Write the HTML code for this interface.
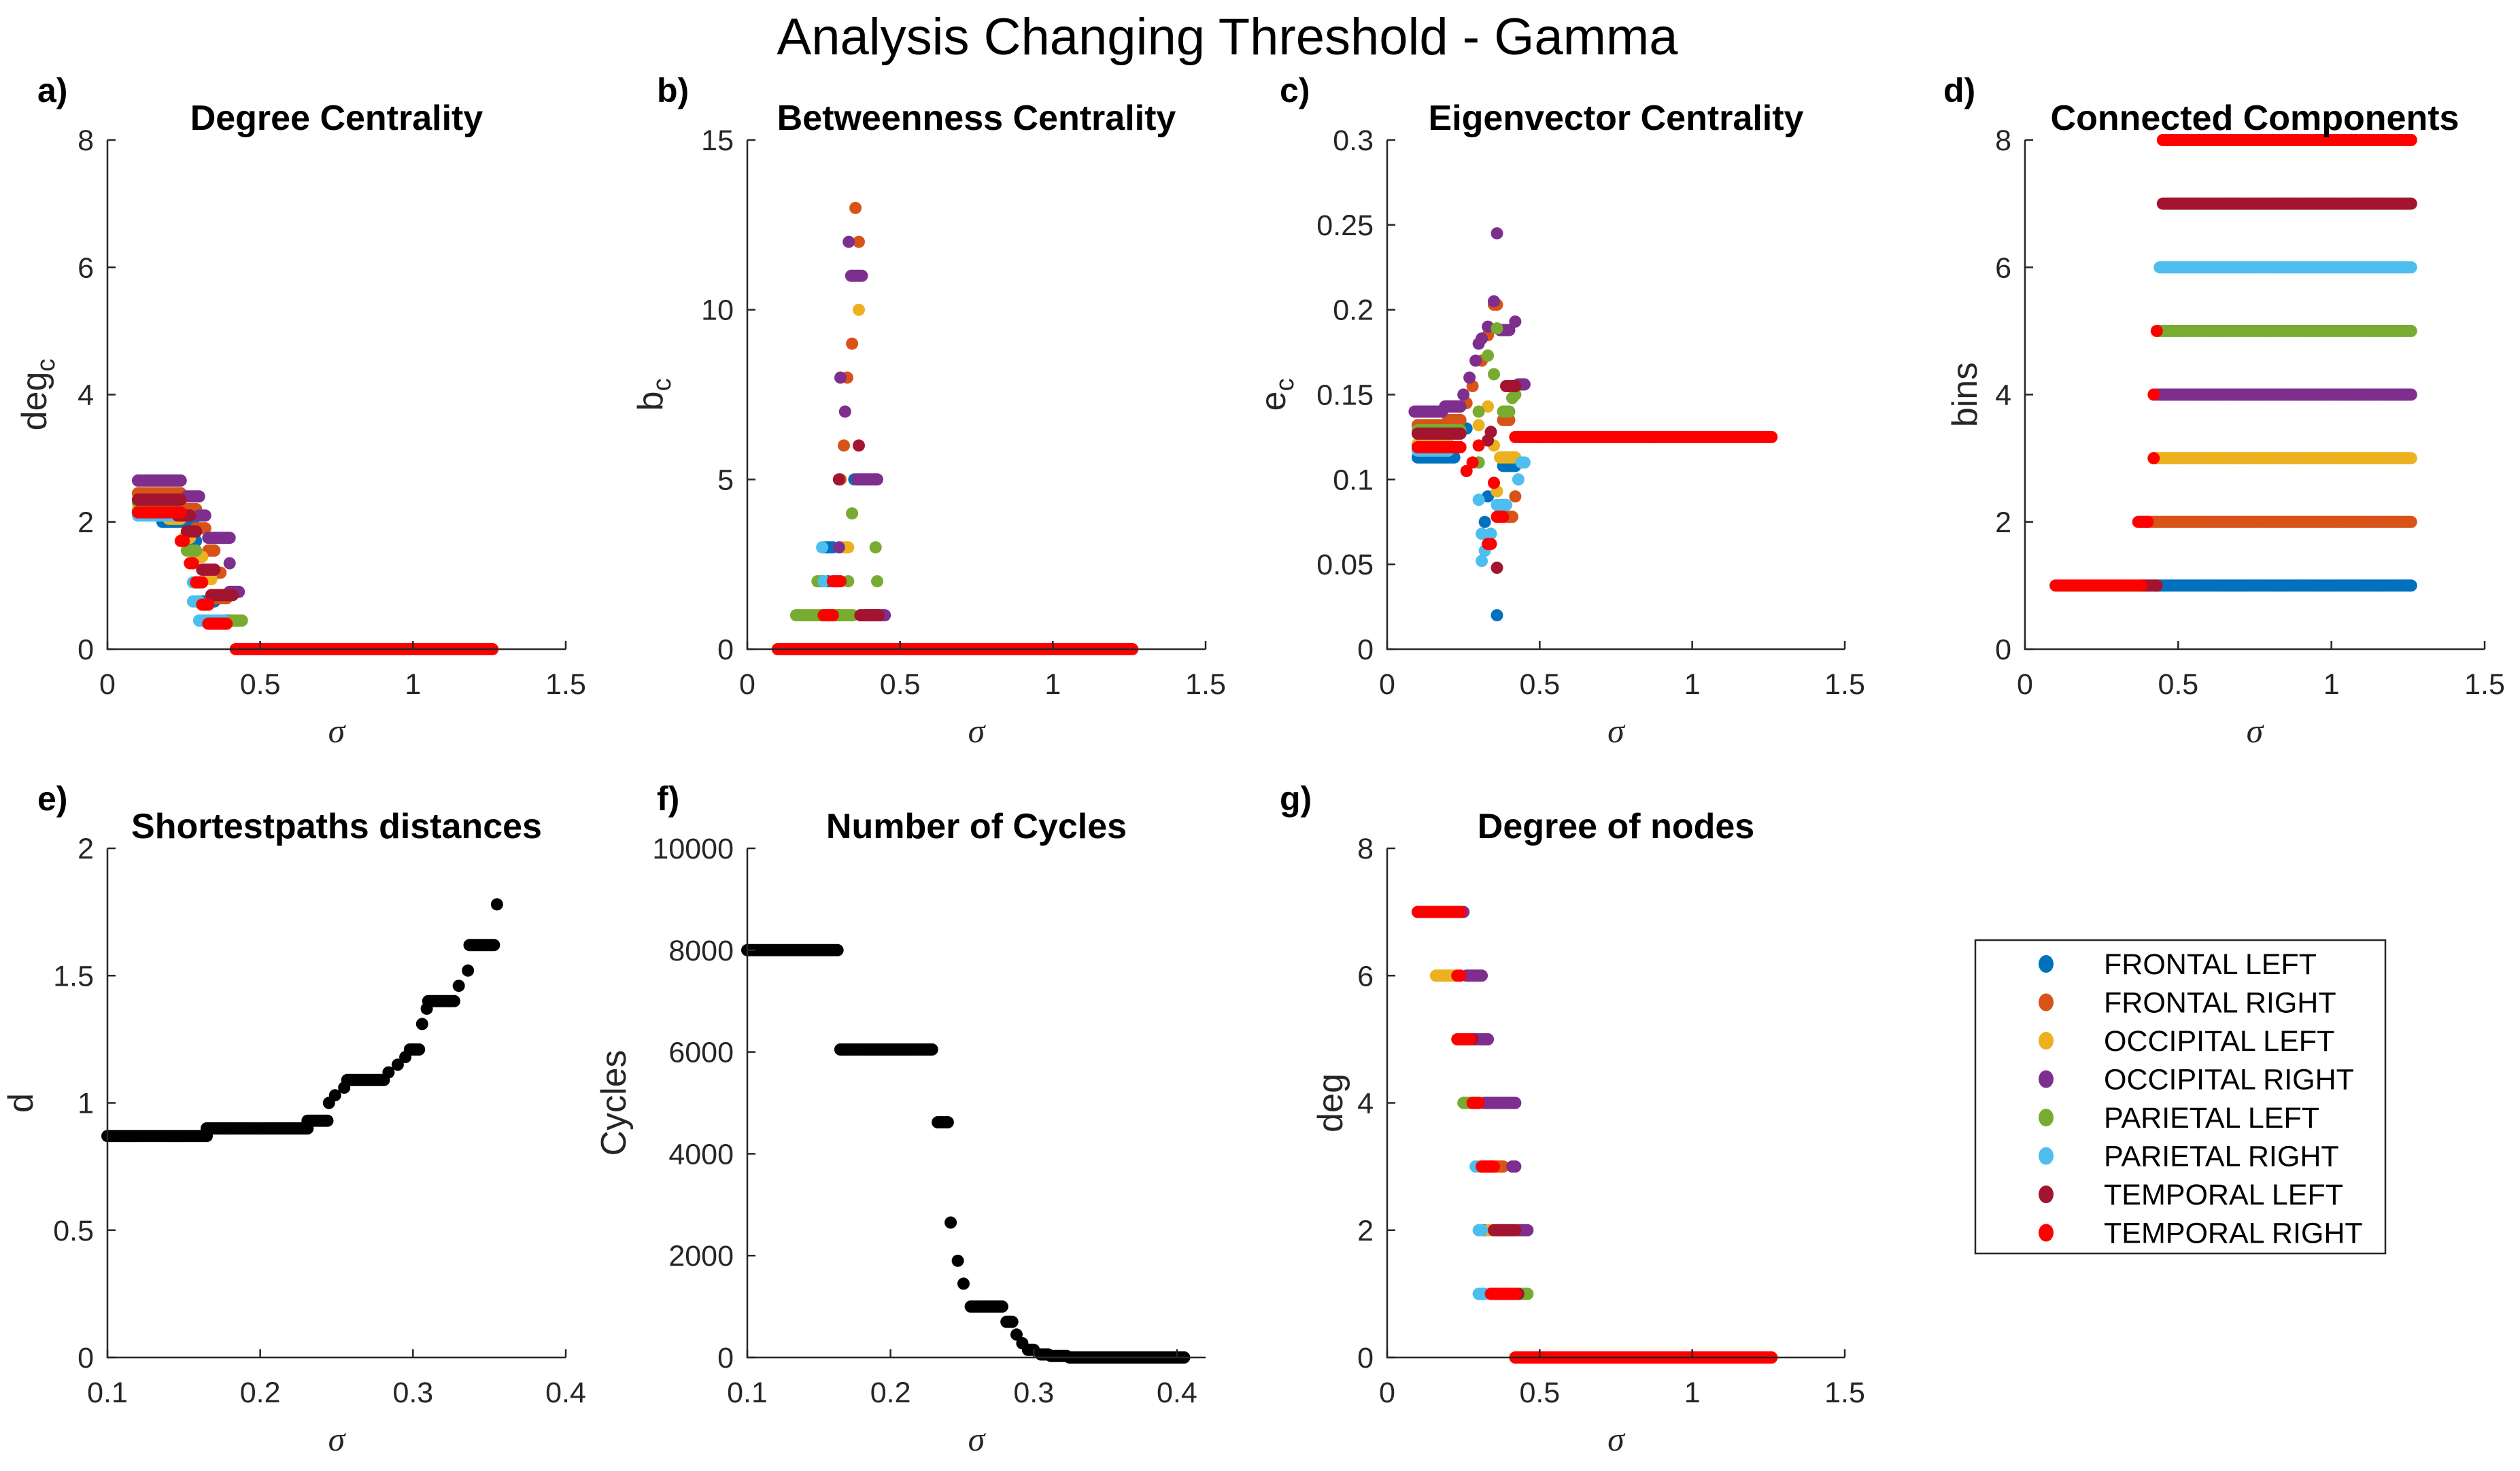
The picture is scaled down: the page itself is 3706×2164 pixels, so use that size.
<!DOCTYPE html>
<html><head><meta charset="utf-8"><style>
html,body{margin:0;padding:0;background:#fff;}
svg{display:block;}
text{font-family:"Liberation Sans",Arial,sans-serif;fill:#262626;}
</style></head><body>
<svg id="fig" width="3706" height="2164" viewBox="0 0 3706 2164" xmlns="http://www.w3.org/2000/svg">
<rect width="3706" height="2164" fill="#fff"/>
<text x="1805" y="80" font-size="76" text-anchor="middle" style="fill:#000">Analysis Changing Threshold - Gamma</text>
<g id="plots"></g>
<g id="legend"></g>
</svg>
<script>
// ---- data: runs are [sigmaStart, sigmaEnd, value] ----
const seriesNames = ["FRONTAL LEFT","FRONTAL RIGHT","OCCIPITAL LEFT","OCCIPITAL RIGHT","PARIETAL LEFT","PARIETAL RIGHT","TEMPORAL LEFT","TEMPORAL RIGHT"];
const seriesColors = ["#0072BD","#D95319","#EDB120","#7E2F8E","#77AC30","#4DBEEE","#A2142F","#FF0000"];

const degCentrality = [
 [[0.1,0.2,2.15],[0.18,0.24,2.0],[0.25,0.28,2.0],[0.27,0.29,1.7],[0.31,0.35,0.75],[0.37,0.4,0.45]],
 [[0.1,0.24,2.45],[0.25,0.29,2.2],[0.29,0.32,1.9],[0.33,0.35,1.55],[0.34,0.37,1.2],[0.34,0.39,0.8]],
 [[0.1,0.22,2.2],[0.2,0.24,2.05],[0.25,0.27,1.75],[0.29,0.31,1.45],[0.33,0.34,1.1]],
 [[0.1,0.24,2.65],[0.26,0.3,2.4],[0.3,0.32,2.1],[0.33,0.4,1.75],[0.4,0.4,1.35],[0.4,0.43,0.9]],
 [[0.1,0.23,2.3],[0.26,0.29,1.55],[0.4,0.44,0.45]],
 [[0.1,0.22,2.1],[0.28,0.3,1.05],[0.28,0.3,0.75],[0.3,0.38,0.45]],
 [[0.1,0.24,2.35],[0.23,0.27,2.1],[0.26,0.29,1.85],[0.31,0.35,1.25],[0.34,0.41,0.85],[0.35,0.38,0.4]],
 [[0.1,0.24,2.15],[0.24,0.25,1.7],[0.27,0.28,1.35],[0.29,0.31,1.05],[0.31,0.33,0.7],[0.33,0.39,0.4],[0.42,1.26,0]]
];
const betweenness = [
 [[0.25,0.28,3],[0.35,0.35,5],[0.265,0.265,2]],
 [[0.354,0.354,13],[0.365,0.365,12],[0.343,0.343,9],[0.327,0.327,8],[0.316,0.316,6],[0.305,0.305,5],[0.3,0.31,1]],
 [[0.365,0.365,10],[0.305,0.33,3],[0.31,0.31,1]],
 [[0.332,0.332,12],[0.34,0.375,11],[0.305,0.305,8],[0.32,0.32,7],[0.36,0.425,5],[0.39,0.45,1],[0.3,0.3,3]],
 [[0.343,0.343,4],[0.42,0.42,3],[0.23,0.25,2],[0.33,0.33,2],[0.425,0.425,2],[0.16,0.345,1]],
 [[0.245,0.245,3],[0.25,0.25,2]],
 [[0.365,0.365,6],[0.3,0.3,5],[0.37,0.43,1]],
 [[0.28,0.305,2],[0.25,0.28,1],[0.1,1.26,0]]
];
const eigenvector = [
 [[0.1,0.22,0.113],[0.26,0.26,0.13],[0.3,0.3,0.11],[0.33,0.33,0.09],[0.32,0.32,0.075],[0.36,0.36,0.02],[0.38,0.42,0.108]],
 [[0.1,0.2,0.132],[0.2,0.24,0.135],[0.26,0.26,0.145],[0.28,0.28,0.155],[0.31,0.31,0.17],[0.33,0.33,0.185],[0.35,0.36,0.203],[0.38,0.4,0.135],[0.42,0.42,0.09],[0.39,0.41,0.078]],
 [[0.1,0.2,0.121],[0.3,0.3,0.132],[0.33,0.33,0.143],[0.35,0.35,0.12],[0.37,0.42,0.113],[0.36,0.36,0.093]],
 [[0.09,0.18,0.14],[0.19,0.24,0.143],[0.25,0.25,0.15],[0.27,0.27,0.16],[0.29,0.29,0.17],[0.3,0.3,0.18],[0.31,0.31,0.183],[0.33,0.33,0.19],[0.35,0.35,0.205],[0.36,0.36,0.245],[0.37,0.4,0.188],[0.42,0.42,0.193],[0.43,0.45,0.156]],
 [[0.1,0.24,0.129],[0.3,0.3,0.14],[0.33,0.33,0.173],[0.35,0.35,0.162],[0.38,0.4,0.14],[0.41,0.41,0.148],[0.42,0.42,0.15],[0.36,0.36,0.189],[0.3,0.3,0.11]],
 [[0.1,0.2,0.117],[0.3,0.3,0.088],[0.31,0.31,0.068],[0.31,0.31,0.052],[0.32,0.32,0.058],[0.34,0.34,0.068],[0.36,0.39,0.085],[0.44,0.45,0.11],[0.43,0.43,0.1]],
 [[0.1,0.24,0.127],[0.33,0.33,0.123],[0.34,0.34,0.128],[0.39,0.42,0.155],[0.36,0.36,0.048]],
 [[0.1,0.24,0.119],[0.26,0.26,0.105],[0.28,0.28,0.11],[0.3,0.3,0.12],[0.33,0.34,0.062],[0.35,0.35,0.098],[0.36,0.38,0.078],[0.42,1.26,0.125]]
];
const components = [
 [[0.43,1.26,1]],
 [[0.4,1.26,2]],
 [[0.42,1.26,3]],
 [[0.43,1.26,4]],
 [[0.44,1.26,5]],
 [[0.44,1.26,6]],
 [[0.38,0.43,1],[0.45,1.26,7]],
 [[0.1,0.38,1],[0.37,0.4,2],[0.42,0.42,3],[0.42,0.42,4],[0.43,0.43,5],[0.45,1.26,8]]
];
const shortestPaths = [[0.1,0.165,0.87],[0.165,0.231,0.9],[0.231,0.244,0.93],[0.245,0.245,1.0],[0.249,0.249,1.03],[0.255,0.255,1.06],[0.257,0.281,1.09],[0.284,0.284,1.12],[0.29,0.29,1.15],[0.295,0.295,1.18],[0.298,0.304,1.21],[0.306,0.306,1.31],[0.309,0.309,1.37],[0.31,0.327,1.4],[0.33,0.33,1.46],[0.336,0.336,1.52],[0.337,0.353,1.62],[0.355,0.355,1.78]];
const cycles = [[0.1,0.163,8000],[0.165,0.229,6050],[0.233,0.24,4620],[0.242,0.242,2650],[0.247,0.247,1900],[0.251,0.251,1450],[0.256,0.278,1000],[0.281,0.285,700],[0.288,0.288,450],[0.292,0.292,280],[0.296,0.3,150],[0.305,0.31,60],[0.312,0.323,30],[0.325,0.405,0]];
const degreeNodes = [
 [[0.32,0.32,2]],
 [[0.36,0.38,3]],
 [[0.16,0.22,6],[0.31,0.31,4],[0.33,0.34,2]],
 [[0.25,0.25,7],[0.26,0.31,6],[0.29,0.33,5],[0.32,0.42,4],[0.41,0.42,3],[0.43,0.46,2]],
 [[0.25,0.27,4],[0.44,0.46,1]],
 [[0.29,0.3,3],[0.3,0.31,2],[0.3,0.32,1]],
 [[0.28,0.28,5],[0.35,0.42,2],[0.43,0.43,1]],
 [[0.1,0.24,7],[0.23,0.24,6],[0.23,0.27,5],[0.28,0.3,4],[0.31,0.35,3],[0.34,0.42,1],[0.42,1.26,0]]
];

const xTicks15 = [0,0.5,1,1.5];
const xTicks04 = [0.1,0.2,0.3,0.4];
const yTicks8 = [0,2,4,6,8];
const yTicks15 = [0,5,10,15];
const yTicksE = [0,0.05,0.1,0.15,0.2,0.25,0.3];
const yTicks2 = [0,0.5,1,1.5,2];
const yTicksCyc = [0,2000,4000,6000,8000,10000];

// ---- rendering ----
const NS="http://www.w3.org/2000/svg";
const plots=document.getElementById('plots');
function mk(tag,attrs,parent){const e=document.createElementNS(NS,tag);for(const k in attrs)e.setAttribute(k,attrs[k]);parent.appendChild(e);return e;}

function panel(p){
  const g=mk('g',{},plots);
  
  
  const sx=v=>p.x0+(v-p.xlim[0])/(p.xlim[1]-p.xlim[0])*(p.x1-p.x0);
  const sy=v=>p.yb-(v-p.ylim[0])/(p.ylim[1]-p.ylim[0])*(p.yb-p.yt);
  const mg=mk('g',{},g);
  
  
  p.series.forEach((runs,si)=>{
    const col=p.colors[si];
    runs.forEach(r=>{
      const a=sx(r[0]), b=sx(r[1]), y=sy(r[2]);
      const n=Math.max(1,Math.round((b-a)/3)+1);
      for(let i=0;i<n;i++){
        const x=n===1?a:a+(b-a)*i/(n-1);
        const c=mk('circle',{cx:x.toFixed(1),cy:y.toFixed(1),r:9,fill:col},mg);
        
        
      }
    });
  });
  const ax=mk('path',{d:`M${p.x0},${p.yt} L${p.x0},${p.yb} L${p.x1},${p.yb}`,stroke:'#262626','stroke-width':2.5,fill:'none'},g);
  
  
  p.xticks.forEach(t=>{
    const x=sx(t);
    mk('line',{x1:x,y1:p.yb,x2:x,y2:p.yb-12,stroke:'#262626','stroke-width':2.5},g);
    const tx=mk('text',{x:x,y:p.yb+66,'font-size':43,'text-anchor':'middle'},g);
    tx.textContent=String(t);
    
    
  });
  p.yticks.forEach(t=>{
    const y=sy(t);
    mk('line',{x1:p.x0,y1:y,x2:p.x0+12,y2:y,stroke:'#262626','stroke-width':2.5},g);
    const tx=mk('text',{x:p.x0-20,y:y+15,'font-size':43,'text-anchor':'end'},g);
    tx.textContent=String(t);
    
    
  });
  const ti=mk('text',{x:(p.x0+p.x1)/2,y:p.yt-15,'font-size':52,'font-weight':'bold','text-anchor':'middle'},g);
  ti.textContent=p.title; ti.style.fill='#000';
  
  
  const lt=mk('text',{x:p.lx,y:p.yt-56,'font-size':50,'font-weight':'bold'},g);
  lt.textContent=p.letter; lt.style.fill='#000';
  
  
  const xl=mk('text',{x:(p.x0+p.x1)/2,y:p.yb+137,'font-size':50,'font-style':'italic','text-anchor':'middle'},g);
  xl.style.fontFamily='"Liberation Serif",serif';
  xl.textContent='σ';
  
  
  const yc=(p.yt+p.yb)/2;
  const yl=mk('text',{x:0,y:0,'font-size':52,'text-anchor':'middle',transform:`translate(${p.ylx},${yc}) rotate(-90)`},g);
  yl.textContent=p.ylabel;
  if(p.ysub){const ts=mk('tspan',{dy:12,'font-size':38},yl);ts.textContent=p.ysub;}
  
  
}

const C=seriesColors;
const R1={yt:206,yb:955}, R2={yt:1248,yb:1997};
panel({name:'degree-centrality-plot',title:'Degree Centrality',letter:'a)',lx:55,x0:158,x1:832,...R1,xlim:[0,1.5],ylim:[0,8],xticks:xTicks15,yticks:yTicks8,ylabel:'deg',ysub:'c',ylx:68,series:degCentrality,colors:C});
panel({name:'betweenness-centrality-plot',title:'Betweenness Centrality',letter:'b)',lx:966,x0:1099,x1:1773,...R1,xlim:[0,1.5],ylim:[0,15],xticks:xTicks15,yticks:yTicks15,ylabel:'b',ysub:'c',ylx:974,series:betweenness,colors:C});
panel({name:'eigenvector-centrality-plot',title:'Eigenvector Centrality',letter:'c)',lx:1882,x0:2040,x1:2713,...R1,xlim:[0,1.5],ylim:[0,0.3],xticks:xTicks15,yticks:yTicksE,ylabel:'e',ysub:'c',ylx:1890,series:eigenvector,colors:C});
panel({name:'connected-components-plot',title:'Connected Components',letter:'d)',lx:2858,x0:2978,x1:3654,...R1,xlim:[0,1.5],ylim:[0,8],xticks:xTicks15,yticks:yTicks8,ylabel:'bins',ylx:2907,series:components,colors:C});
panel({name:'shortest-paths-plot',title:'Shortestpaths distances',letter:'e)',lx:55,x0:158,x1:832,...R2,xlim:[0.1,0.4],ylim:[0,2],xticks:xTicks04,yticks:yTicks2,ylabel:'d',ylx:48,series:[shortestPaths],colors:['#000']});
panel({name:'cycles-plot',title:'Number of Cycles',letter:'f)',lx:966,x0:1099,x1:1773,...R2,xlim:[0.1,0.42],ylim:[0,10000],xticks:xTicks04,yticks:yTicksCyc,ylabel:'Cycles',ylx:920,series:[cycles],colors:['#000']});
panel({name:'degree-of-nodes-plot',title:'Degree of nodes',letter:'g)',lx:1882,x0:2040,x1:2713,...R2,xlim:[0,1.5],ylim:[0,8],xticks:xTicks15,yticks:yTicks8,ylabel:'deg',ylx:1974,series:degreeNodes,colors:C});

// legend
const lg=document.getElementById('legend');
mk('rect',{x:2905,y:1383,width:603,height:461,fill:'#fff',stroke:'#262626','stroke-width':2.5},lg);
seriesNames.forEach((n,i)=>{
  const y=1418+i*56.5;
  const e=mk('g',{},lg);
  
  
  mk('ellipse',{cx:3009,cy:y,rx:11,ry:13,fill:seriesColors[i]},e);
  const t=mk('text',{x:3094,y:y+15,'font-size':43},e);
  t.textContent=n; t.style.fill='#000';
});
</script>
</body></html>
